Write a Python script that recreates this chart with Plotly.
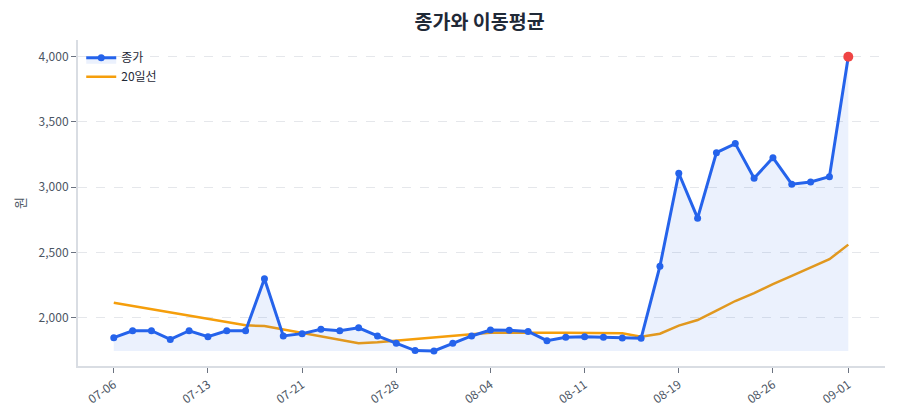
import plotly.graph_objects as go

dates = ["07-06", "07-07", "07-08", "07-09", "07-10", "07-13", "07-14", "07-15", "07-16", "07-17",
         "07-21", "07-22", "07-23", "07-24", "07-25", "07-28", "07-29", "07-30", "07-31", "08-01",
         "08-04", "08-05", "08-06", "08-07", "08-08", "08-11", "08-12", "08-13", "08-14", "08-18",
         "08-19", "08-20", "08-21", "08-22", "08-25", "08-26", "08-27", "08-28", "08-29", "09-01"]

close = [1847, 1900, 1900, 1834, 1900, 1855, 1900, 1900, 2298, 1860,
         1878, 1911, 1900, 1923, 1860, 1804, 1748, 1745, 1804, 1860,
         1906, 1904, 1895, 1824, 1850, 1855, 1850, 1845, 1842, 2395,
         3107, 2763, 3265, 3334, 3069, 3226, 3023, 3040, 3081, 4000]

ma20 = [2115, 2090, 2066, 2041, 2016, 1992, 1967, 1942, 1936, 1910,
        1883, 1857, 1831, 1804, 1812, 1825, 1838, 1850, 1862, 1874,
        1884, 1886, 1886, 1885, 1884, 1883, 1882, 1880, 1854, 1877,
        1939, 1982, 2054, 2128, 2189, 2258, 2320, 2384, 2448, 2560]

tick_labels = ["07-06", "07-13", "07-21", "07-28", "08-04", "08-11", "08-19", "08-26", "09-01"]

FONT = "Noto Sans CJK KR"
BLUE = "#2563eb"
ORANGE = "#f59e0b"
RED = "#ef4444"

base = min(close)

fig = go.Figure()
fig.add_trace(go.Scatter(x=dates, y=ma20, mode="lines", name="20일선",
                         line=dict(color=ORANGE, width=2.5), legendrank=2))
fig.add_trace(go.Scatter(x=dates, y=[base] * len(dates), mode="lines",
                         line=dict(width=0, color="rgba(0,0,0,0)"),
                         showlegend=False, hoverinfo="skip"))
fig.add_trace(go.Scatter(x=dates, y=close, mode="lines+markers", name="종가",
                         line=dict(color=BLUE, width=3), marker=dict(size=7, color=BLUE),
                         fill="tonexty", fillcolor="rgba(37,99,235,0.09)", legendrank=1))
fig.add_trace(go.Scatter(x=[dates[-1]], y=[close[-1]], mode="markers",
                         marker=dict(size=10, color=RED), showlegend=False))

fig.update_layout(
    width=900, height=420,
    margin=dict(l=68, r=23, t=32, b=62),
    paper_bgcolor="white", plot_bgcolor="white",
    font=dict(family=FONT, size=12, color="#374151"),
    title=dict(text="<b>종가와 이동평균</b>", x=0.524, xanchor="center", y=0.966, yanchor="middle",
               font=dict(family=FONT, size=19.5, color="#1f2937")),
    legend=dict(x=0.004, y=0.99, xanchor="left", yanchor="top", traceorder="normal",
                bgcolor="rgba(255,255,255,0)", font=dict(size=12, color="#1f2937")),
    showlegend=True,
)
fig.update_xaxes(type="category", categoryorder="array", categoryarray=dates,
                 tickmode="array", tickvals=tick_labels, ticktext=tick_labels,
                 range=[-1.9, len(dates) - 1 + 1.95],
                 tickangle=-35, showgrid=False, showline=True, linecolor="#d9dde3", linewidth=2,
                 ticks="outside", ticklen=5, tickcolor="#6b7280", tickfont=dict(size=12, color="#4b5563"))
fig.update_yaxes(range=[1630, 4128], tickvals=[2000, 2500, 3000, 3500, 4000], tickformat=",",
                 showgrid=True, gridcolor="#e5e7eb", griddash="dash", gridwidth=1,
                 showline=True, linecolor="#d9dde3", linewidth=2, zeroline=False,
                 ticks="outside", ticklen=5, tickcolor="#6b7280", tickfont=dict(size=12, color="#4b5563"),
                 title=dict(text="원", font=dict(size=13, color="#4b5563"), standoff=10))

fig.write_html("out.html")
